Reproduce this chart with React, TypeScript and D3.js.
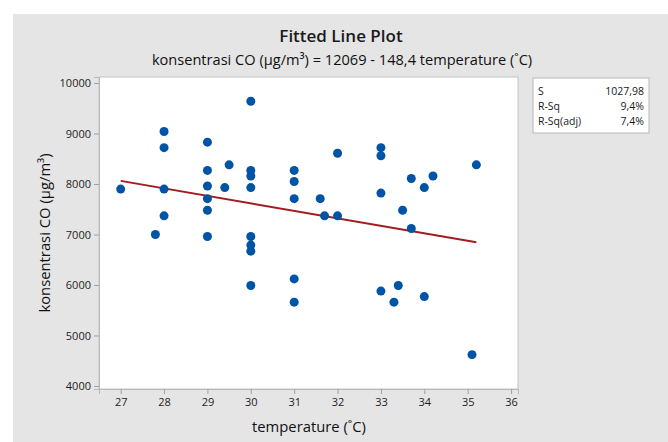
import React, { useEffect, useRef } from "react";
import * as d3 from "d3";

const temperature = [
  27, 27.8, 28, 28, 28, 28, 29, 29, 29, 29, 29, 29, 29.4, 29.5,
  30, 30, 30, 30, 30, 30, 30, 30, 31, 31, 31, 31, 31, 31.6, 31.7,
  32, 32, 33, 33, 33, 33, 33.3, 33.4, 33.5, 33.7, 33.7, 34, 34, 34.2,
  35.1, 35.2,
];
const concentration = [
  7900, 7000, 9040, 8720, 7900, 7370, 8830, 8270, 7960, 7710, 7480, 6960, 7930, 8380,
  9640, 8270, 8160, 7930, 6960, 6790, 6670, 5990, 8270, 8050, 7710, 6120, 5660, 7710, 7370,
  8610, 7370, 8720, 8560, 7820, 5880, 5660, 5990, 7480, 8110, 7120, 7930, 5770, 8160,
  4620, 8380,
];
const xTicks = [27, 28, 29, 30, 31, 32, 33, 34, 35, 36];
const yTicks = [4000, 5000, 6000, 7000, 8000, 9000, 10000];
const intercept = 12069;
const slope = -148.4;
const statLabels = ["S", "R-Sq", "R-Sq(adj)"];
const statValues = ["1027,98", "9,4%", "7,4%"];

const FONT = "'Open Sans', 'Noto Sans', sans-serif";

const App = () => {
  const chartRef = useRef<SVGSVGElement>(null);

  useEffect(() => {
    const svg = d3.select(chartRef.current);
    svg.selectAll("*").remove();

    const left = 99, right = 518, top = 77, bottom = 389;

    svg.append("rect").attr("x", 13).attr("y", 14).attr("width", 655).attr("height", 428)
      .attr("fill", "#e5e5e5");

    const x = d3.scaleLinear().domain([26.5, 36.16]).range([left, right]);
    const y = d3.scaleLinear().domain([3940, 10120]).range([bottom, top]);

    svg.append("rect").attr("x", left).attr("y", top)
      .attr("width", right - left).attr("height", bottom - top)
      .attr("fill", "#fff").attr("stroke", "#c4c4c4");

    const xAxis = svg.append("g")
      .attr("transform", `translate(0,${bottom})`)
      .call(d3.axisBottom(x).tickValues(xTicks).tickSize(5).tickPadding(4).tickFormat(d3.format("d")));
    const yAxis = svg.append("g")
      .attr("transform", `translate(${left},0)`)
      .call(d3.axisLeft(y).tickValues(yTicks).tickSize(5).tickPadding(3).tickFormat(d3.format("d")));
    [xAxis, yAxis].forEach((g) => {
      g.select(".domain").attr("stroke", "#b8b8b8");
      g.selectAll(".tick line").attr("stroke", "#a0a0a0");
      g.selectAll(".tick text").attr("fill", "#1e1e1e").attr("font-size", 11).attr("font-family", FONT);
    });

    const xs = d3.extent(temperature) as [number, number];
    svg.append("line")
      .attr("x1", x(xs[0])).attr("y1", y(intercept + slope * xs[0]))
      .attr("x2", x(xs[1])).attr("y2", y(intercept + slope * xs[1]))
      .attr("stroke", "#a21d22").attr("stroke-width", 2);

    svg.append("g").selectAll("circle")
      .data(temperature)
      .enter()
      .append("circle")
      .attr("cx", (d) => x(d))
      .attr("cy", (d, i) => y(concentration[i]))
      .attr("r", 4.5)
      .attr("fill", "#0054a6");

    svg.append("text").attr("x", 341).attr("y", 42).attr("text-anchor", "middle")
      .attr("font-family", FONT).attr("font-size", 17).attr("font-weight", 600).attr("fill", "#1a1a1a")
      .text("Fitted Line Plot");
    svg.append("text").attr("x", 342).attr("y", 65).attr("text-anchor", "middle")
      .attr("font-family", FONT).attr("font-size", 14.6).attr("fill", "#111")
      .text("konsentrasi CO (µg/m³) = 12069 - 148,4 temperature (˚C)");

    svg.append("text").attr("x", 309).attr("y", 432).attr("text-anchor", "middle")
      .attr("font-family", FONT).attr("font-size", 14.8).attr("fill", "#111")
      .text("temperature (˚C)");
    svg.append("text")
      .attr("transform", `translate(50,233) rotate(-90)`)
      .attr("text-anchor", "middle")
      .attr("font-family", FONT).attr("font-size", 14.8).attr("fill", "#111")
      .text("konsentrasi CO (µg/m³)");

    const legend = svg.append("g");
    legend.append("rect").attr("x", 533).attr("y", 78).attr("width", 116).attr("height", 55)
      .attr("fill", "#fff").attr("stroke", "#b8b8b8");
    statLabels.forEach((s, i) => {
      legend.append("text").attr("x", 538).attr("y", 95 + i * 15)
        .attr("font-family", FONT).attr("font-size", 10.5).attr("fill", "#1a1a1a").text(s);
      legend.append("text").attr("x", 644).attr("y", 95 + i * 15).attr("text-anchor", "end")
        .attr("font-family", FONT).attr("font-size", 10.5).attr("fill", "#1a1a1a").text(statValues[i]);
    });
  }, [chartRef]);

  return (
    <svg
      ref={chartRef}
      width={668}
      height={442}
      style={{ position: "absolute", left: 0, top: 0 }}
    />
  );
};

export default App;
